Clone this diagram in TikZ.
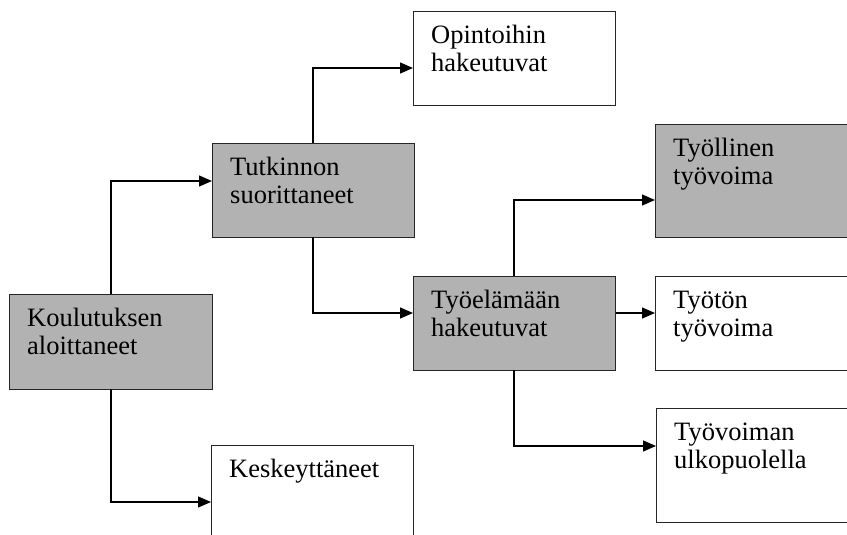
\documentclass[tikz,border=0pt]{standalone}
\usepackage{fontspec}
\setmainfont{Liberation Serif}
\usetikzlibrary{arrows.meta}
\tikzset{
  boxw/.style={draw=black!85, line width=1.3pt, fill=white, minimum width=#1, anchor=north west, inner sep=0pt},
  boxg/.style={boxw=#1, fill=black!30},
  txt/.style={anchor=north west, inner sep=0pt, align=left, font=\fontsize{26.5}{28}\selectfont},
  conn/.style={draw=black, line width=1.2pt, -{Triangle[length=13pt,width=11pt]}},
}
\newcommand{\bx}[6]{% name, style, x1, y1, x2, y2
  \node[#2=#5pt-#3pt, minimum height=#6pt-#4pt] (#1) at (#3pt,-#4pt) {};}
\newcommand{\tx}[2]{%
  \node[txt] (#1t) at ([xshift=18pt,yshift=-12.4pt]#1.north west) {\strut #2};}
\begin{document}
\begin{tikzpicture}
\useasboundingbox (0,0) rectangle (847pt,-535pt);
\bx{kou}{boxg}{9}{294}{212}{389}
\bx{tut}{boxg}{212}{143}{414}{237}
\bx{opi}{boxw}{413}{11}{615}{105}
\bx{kes}{boxw}{211}{445}{413}{570}
\bx{tye}{boxg}{413}{276}{615}{370}
\bx{tyl}{boxg}{655}{124}{880}{237}
\bx{tyt}{boxw}{655}{276}{880}{370}
\bx{tyv}{boxw}{656}{408}{880}{522}
\tx{kou}{Koulutuksen\\aloittaneet}
\tx{tut}{Tutkinnon\\suorittaneet}
\tx{opi}{Opintoihin\\hakeutuvat}
\tx{kes}{Keskeyttäneet}
\tx{tye}{Työelämään\\hakeutuvat}
\tx{tyl}{Työllinen\\työvoima}
\tx{tyt}{Työtön\\työvoima}
\tx{tyv}{Työvoiman\\ulkopuolella}
\coordinate (kouTop) at (111pt,-294pt);
\coordinate (kouBot) at (111pt,-389pt);
\coordinate (tutTop) at (313pt,-143pt);
\coordinate (tutBot) at (313pt,-237pt);
\coordinate (tyeTop) at (514pt,-276pt);
\coordinate (tyeBot) at (514pt,-370pt);
\draw[conn] (kouTop) |- (tut.west |- 0,-181pt);
\draw[conn] (kouBot) |- (kes.west |- 0,-502pt);
\draw[conn] (tutTop) |- (opi.west |- 0,-68pt);
\draw[conn] (tutBot) |- (tye.west |- 0,-313pt);
\draw[conn] (tyeTop) |- (tyl.west |- 0,-200pt);
\draw[conn] (tye.east |- 0,-313pt) -- (tyt.west |- 0,-313pt);
\draw[conn] (tyeBot) |- (tyv.west |- 0,-446pt);
\end{tikzpicture}
\end{document}
